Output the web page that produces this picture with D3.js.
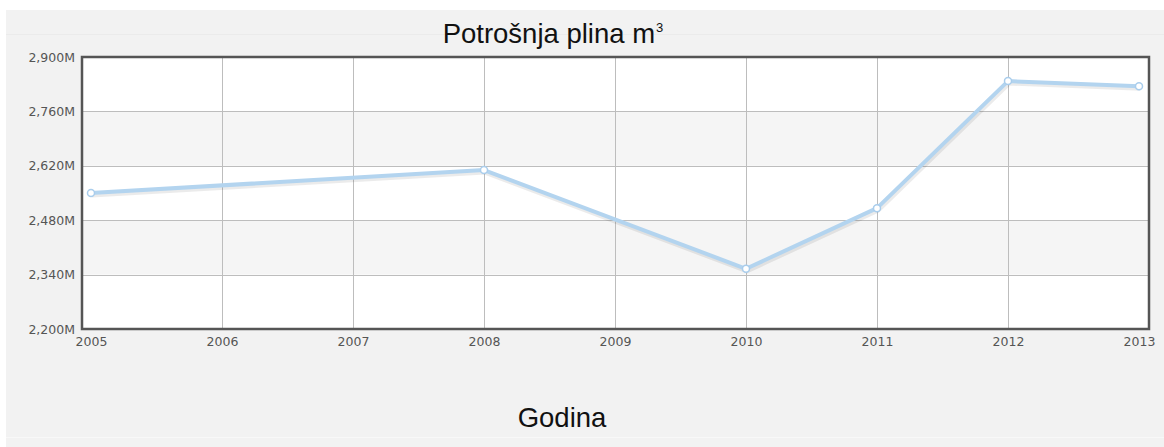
<!DOCTYPE html>
<html><head><meta charset="utf-8">
<script src="https://cdn.jsdelivr.net/npm/d3@7"></script>
<style>html,body{margin:0;padding:0;background:#fff;}svg{display:block;}</style>
</head><body>
<svg id="c" width="1164" height="447"></svg>
<script>
const years = [2005, 2008, 2010, 2011, 2012, 2013];
const values = [2550, 2609, 2355, 2511, 2838, 2825]; // millions m3
const xTicks = [2005, 2006, 2007, 2008, 2009, 2010, 2011, 2012, 2013];
const yTicks = [2200, 2340, 2480, 2620, 2760, 2900];
const title = "Potrošnja plina m";
const xTitle = "Godina";

const svg = d3.select("#c");
const L = 82, R = 1149, T = 57, B = 329;
const x = d3.scaleLinear().domain([2005, 2013]).range([91, 1139]);
const y = d3.scaleLinear().domain([2200, 2900]).range([B, T]);
const fmt = d => d3.format(",")(d) + "M";

svg.append("rect").attr("x", 6).attr("y", 10).attr("width", 1158).attr("height", 437).attr("fill", "#f2f2f2");
svg.append("line").attr("x1", 6).attr("x2", 1164).attr("y1", 34.5).attr("y2", 34.5).attr("stroke", "#ebebeb");
svg.append("line").attr("x1", 6).attr("x2", 1164).attr("y1", 437.5).attr("y2", 437.5).attr("stroke", "#f8f8f8");

// plot background & bands
svg.append("rect").attr("x", L).attr("y", T).attr("width", R - L).attr("height", B - T).attr("fill", "#fff");
for (let i = 0; i < yTicks.length - 1; i++) {
  if (i % 2 === 1) {
    svg.append("rect").attr("x", L).attr("width", R - L)
      .attr("y", y(yTicks[i + 1])).attr("height", y(yTicks[i]) - y(yTicks[i + 1]))
      .attr("fill", "#f5f5f5");
  }
}
// grid
svg.append("g").selectAll("line").data(yTicks.slice(1, -1)).join("line")
  .attr("x1", L).attr("x2", R).attr("y1", d => Math.round(y(d)) + 0.5).attr("y2", d => Math.round(y(d)) + 0.5)
  .attr("stroke", "#bdbdbd");
svg.append("g").selectAll("line").data(xTicks.slice(1, -1)).join("line")
  .attr("y1", T).attr("y2", B).attr("x1", d => Math.round(x(d)) + 0.5).attr("x2", d => Math.round(x(d)) + 0.5)
  .attr("stroke", "#bdbdbd");

// axes labels
const yAxis = d3.axisLeft(y).tickValues(yTicks).tickFormat(fmt).tickSize(0).tickPadding(7);
const gy = svg.append("g").attr("transform", `translate(${L},0)`).call(yAxis);
gy.select(".domain").remove();
gy.selectAll("text").attr("font-family", "DejaVu Sans, Verdana, sans-serif").attr("font-size", 12.5).attr("fill", "#555");
const xAxis = d3.axisBottom(x).tickValues(xTicks).tickFormat(d3.format("d")).tickSize(0).tickPadding(8);
const gx = svg.append("g").attr("transform", `translate(0,${B})`).call(xAxis);
gx.select(".domain").remove();
gx.selectAll("text").attr("font-family", "DejaVu Sans, Verdana, sans-serif").attr("font-size", 12.5).attr("fill", "#555");

// frame
svg.append("rect").attr("x", L).attr("y", T).attr("width", R - L).attr("height", B - T)
  .attr("fill", "none").attr("stroke", "#555").attr("stroke-width", 2.5);

// line
const data = years.map((yr, i) => ({ yr, v: values[i] }));
const line = d3.line().x(d => x(d.yr)).y(d => y(d.v));
svg.append("path").datum(data).attr("d", line).attr("fill", "none")
  .attr("stroke", "#000").attr("stroke-opacity", 0.08).attr("stroke-width", 5)
  .attr("transform", "translate(1,2)");
svg.append("path").datum(data).attr("d", line).attr("fill", "none")
  .attr("stroke", "#b3d4ef").attr("stroke-width", 4).attr("stroke-linejoin", "round");
svg.append("g").selectAll("circle").data(data).join("circle")
  .attr("cx", d => x(d.yr)).attr("cy", d => y(d.v)).attr("r", 3.5)
  .attr("fill", "#fff").attr("stroke", "#a9cdec").attr("stroke-width", 1.5);

// titles
const t = svg.append("text").attr("x", 553).attr("y", 43).attr("text-anchor", "middle")
  .attr("font-family", "Liberation Sans, Arial, sans-serif").attr("font-size", 27.5).attr("fill", "#111");
t.append("tspan").text(title);
t.append("tspan").text("3").attr("font-size", 13).attr("dy", -11).attr("dx", 1);
svg.append("text").attr("x", 562).attr("y", 427).attr("text-anchor", "middle")
  .attr("font-family", "Liberation Sans, Arial, sans-serif").attr("font-size", 27.5).attr("fill", "#111").text(xTitle);
</script>
</body></html>
